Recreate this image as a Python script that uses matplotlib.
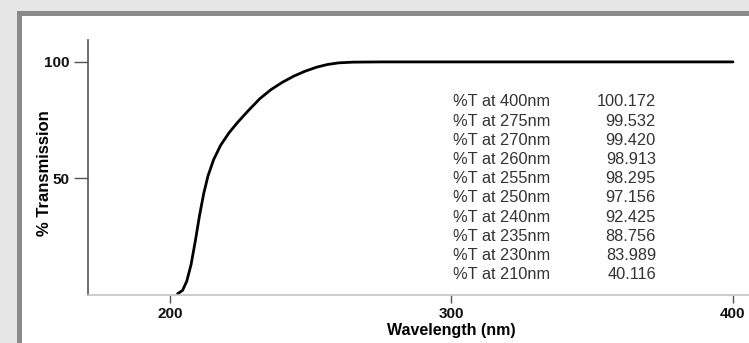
import matplotlib
matplotlib.use("Agg")
import matplotlib.pyplot as plt
from matplotlib.patches import Rectangle

plt.rcParams['font.family'] = ['Liberation Sans', 'DejaVu Sans']

# transmission curve
wavelength = [202.7, 204.5, 206, 207.5, 209, 210.5, 212, 213.5, 215.5, 218,
              221, 224, 228, 232, 236, 240, 244, 248, 252, 256,
              260, 265, 275, 300, 400]
transmission = [0.5, 2, 6, 13, 23, 34, 43.5, 51, 58, 64.2,
                69.6, 74, 79.3, 84.3, 88.2, 91.3, 93.9, 96, 97.7, 98.9,
                99.6, 99.9, 100, 100, 100]

table_labels = ["%T at 400nm", "%T at 275nm", "%T at 270nm", "%T at 260nm",
                "%T at 255nm", "%T at 250nm", "%T at 240nm", "%T at 235nm",
                "%T at 230nm", "%T at 210nm"]
table_values = ["100.172", "99.532", "99.420", "98.913", "98.295",
                "97.156", "92.425", "88.756", "83.989", "40.116"]

x_ticks = [200, 300, 400]
y_ticks = [50, 100]

W, H = 749, 343
fig = plt.figure(figsize=(W / 100, H / 100), dpi=100)
fig.patch.set_facecolor('#e6e6e6')
# grey frame and white panel
fig.patches.append(Rectangle((17 / W, 0), 1, (H - 11) / H, transform=fig.transFigure,
                             facecolor='#8a8a8a', edgecolor='none', zorder=-10))
fig.patches.append(Rectangle((22 / W, 0), 1, (H - 16) / H, transform=fig.transFigure,
                             facecolor='white', edgecolor='none', zorder=-9))

ax = fig.add_axes([88 / W, 48 / H, (W - 88) / W, 255 / H])
ax.set_facecolor('none')
ax.plot(wavelength, transmission, color='black', lw=2.0, solid_capstyle='round')

ax.set_xlim(170.9, 405.7)
ax.set_ylim(0, 109.4)
ax.set_xticks(x_ticks)
ax.set_yticks(y_ticks)
ax.tick_params(axis='both', labelsize=11, colors='#555555', labelcolor='#111111')
ax.tick_params(axis='x', length=6, width=1, pad=3)
ax.tick_params(axis='y', length=10, width=1, pad=3)
for lab in ax.get_xticklabels() + ax.get_yticklabels():
    lab.set_fontweight('bold')

for s in ['top', 'right']:
    ax.spines[s].set_visible(False)
ax.spines['left'].set_color('#555555')
ax.spines['left'].set_linewidth(1.2)
ax.spines['bottom'].set_color('#c4c4c4')
ax.spines['bottom'].set_linewidth(1.2)

ax.set_xlabel("Wavelength (nm)", fontsize=11.5, fontweight='bold')
ax.xaxis.set_label_coords((451 - 88) / (W - 88), (295 - 323) / 255)
ax.set_ylabel("% Transmission", fontsize=12, fontweight='bold')
ax.yaxis.set_label_coords((52 - 88) / (W - 88), (295 - 173) / 255)

y0 = (295 - 102) / 255
dy = 19.2 / 255
for i, (lab, val) in enumerate(zip(table_labels, table_values)):
    ax.text((453 - 88) / (W - 88), y0 - i * dy, lab, transform=ax.transAxes,
            fontsize=11.8, color='#333333', ha='left', va='center')
    ax.text((656 - 88) / (W - 88), y0 - i * dy, val, transform=ax.transAxes,
            fontsize=11.8, color='#333333', ha='right', va='center')

fig.savefig("out.png", dpi=100, facecolor=fig.get_facecolor())
